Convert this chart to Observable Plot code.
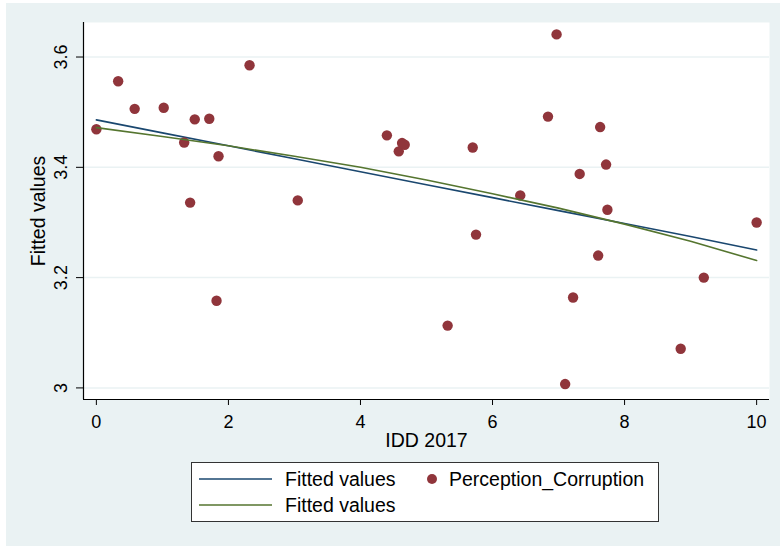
<!DOCTYPE html>
<html><head><meta charset="utf-8">
<script src="https://cdn.jsdelivr.net/npm/d3@7"></script>
<script src="https://cdn.jsdelivr.net/npm/@observablehq/plot@0.6"></script>
<style>
html,body{margin:0;padding:0;background:#fff;}
#wrap{position:relative;width:780px;height:546px;overflow:hidden;font-family:"Liberation Sans",Arial,sans-serif;}
#bg{position:absolute;left:6px;top:3px;width:774px;height:543px;background:#EAF2F3;}
#chart{position:absolute;left:0;top:0;}
#legend{position:absolute;left:191px;top:462px;}
</style>
</head><body>
<div id="wrap"><div id="bg"></div><div id="chart"></div><div id="legend"></div></div>
<script>
// Scatter data: IDD 2017 vs Perception_Corruption
const idd = [0, 0.33, 0.58, 1.02, 1.33, 1.42, 1.49, 1.71, 1.82, 1.85, 2.32, 3.05, 4.40, 4.58, 4.63, 4.67, 5.32, 5.70, 5.75, 6.42, 6.84, 6.97, 7.10, 7.22, 7.32, 7.60, 7.63, 7.72, 7.74, 8.85, 9.20, 10.0];
const corruption = [3.469, 3.556, 3.506, 3.508, 3.445, 3.336, 3.487, 3.488, 3.158, 3.420, 3.585, 3.340, 3.458, 3.429, 3.444, 3.441, 3.113, 3.436, 3.278, 3.349, 3.492, 3.641, 3.007, 3.164, 3.388, 3.240, 3.473, 3.405, 3.323, 3.071, 3.200, 3.300];
// Fitted values (linear and quadratic) read at x = 0..10
const fitX = [0, 1, 2, 3, 4, 5, 6, 7, 8, 9, 10];
const fitLinear = [3.486, 3.4625, 3.439, 3.4155, 3.392, 3.3685, 3.345, 3.3215, 3.298, 3.2745, 3.250];
const fitQuad = [3.472, 3.456, 3.439, 3.420, 3.400, 3.377, 3.352, 3.326, 3.297, 3.266, 3.231];
// Ticks
const xTicks = [0, 2, 4, 6, 8, 10];
const yTicks = [3, 3.2, 3.4, 3.6];
const xTitle = "IDD 2017";
const yTitle = "Fitted values";
const legendItems = ["Fitted values", "Perception_Corruption", "Fitted values"];

const points = idd.map((x, i) => ({x, y: corruption[i]}));
const fits = fitX.map((x, i) => ({x, lin: fitLinear[i], quad: fitQuad[i]}));

const xDomain = [-0.195, 10.195];
const yDomain = [2.979, 3.6626];
const FONT = '"Liberation Sans", Arial, sans-serif';
const BLUE = "#1A476F", GREEN = "#55752F", MAROON = "#90353B", GRID = "#EAF2F3";

const chart = Plot.plot({
  width: 780, height: 546,
  marginLeft: 83, marginRight: 11, marginTop: 22, marginBottom: 147,
  style: {background: "transparent", fontFamily: FONT, color: "#000", overflow: "visible"},
  x: {domain: xDomain},
  y: {domain: yDomain},
  marks: [
    Plot.frame({fill: "white", stroke: "none"}),
    Plot.gridY(yTicks, {stroke: GRID, strokeOpacity: 1, strokeWidth: 1.5}),
    Plot.line(fits, {x: "x", y: "lin", stroke: BLUE, strokeWidth: 1.6}),
    Plot.dot(points, {x: "x", y: "y", r: 5.2, fill: MAROON, stroke: "none"}),
    Plot.line(fits, {x: "x", y: "quad", stroke: GREEN, strokeWidth: 1.6}),
    Plot.ruleX([xDomain[0]], {stroke: "#000", strokeWidth: 1.2}),
    Plot.ruleY([yDomain[0]], {stroke: "#000", strokeWidth: 1.2}),
    Plot.axisX({ticks: xTicks, tickSize: 6, tickPadding: 10, fontSize: 18, tickFormat: d => String(d), label: null, stroke: "#000"}),
    Plot.axisY({ticks: yTicks, tickSize: 7, tickFormat: () => "", label: null, stroke: "#000"}),
    Plot.text(yTicks, {y: d => d, frameAnchor: "left", dx: -22, rotate: -90, text: d => String(d), fontSize: 18, textAnchor: "middle", lineAnchor: "middle", fill: "#000"}),
    Plot.text([yTitle], {frameAnchor: "left", dx: -45, rotate: -90, text: d => d, fontSize: 19.5, textAnchor: "middle", lineAnchor: "middle", fill: "#000"}),
    Plot.text([xTitle], {frameAnchor: "bottom", dy: 41, text: d => d, fontSize: 19.5, textAnchor: "middle", lineAnchor: "middle", fill: "#000"})
  ]
});
document.getElementById("chart").appendChild(chart);

// Legend box
const W = 468, H = 60;
const svg = d3.select("#legend").append("svg").attr("width", W).attr("height", H)
  .style("font-family", FONT);
svg.append("rect").attr("x", 0.5).attr("y", 0.5).attr("width", W - 1).attr("height", H - 1)
  .attr("fill", "#fff").attr("stroke", "#333").attr("stroke-width", 1);
const rows = [
  {type: "line", color: BLUE, label: legendItems[0], sx: 8, tx: 94, y: 17},
  {type: "dot", color: MAROON, label: legendItems[1], sx: 241, tx: 258, y: 17},
  {type: "line", color: GREEN, label: legendItems[2], sx: 8, tx: 94, y: 43}
];
for (const r of rows) {
  if (r.type === "line") {
    svg.append("line").attr("x1", r.sx).attr("x2", r.sx + 73).attr("y1", r.y).attr("y2", r.y)
      .attr("stroke", r.color).attr("stroke-width", 1.6);
  } else {
    svg.append("circle").attr("cx", r.sx).attr("cy", r.y).attr("r", 5).attr("fill", r.color);
  }
  svg.append("text").attr("x", r.tx).attr("y", r.y).attr("dy", "0.35em")
    .attr("font-size", 19.5).attr("fill", "#000").text(r.label);
}
</script>
</body></html>
